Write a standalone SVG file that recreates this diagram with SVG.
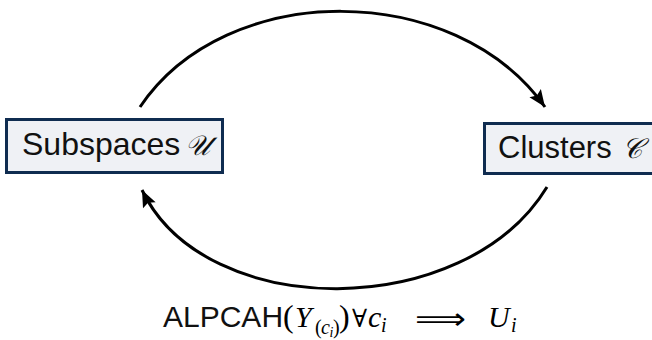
<svg xmlns="http://www.w3.org/2000/svg" width="652" height="340" viewBox="0 0 652 340">
<style>
.box{fill:#eff1f5;stroke:#0f2c50;stroke-width:3}
.lbl{font-family:"Liberation Sans",Arial,sans-serif;font-size:31px;fill:#111}
.cal{font-family:"DejaVu Serif","Liberation Serif",serif;font-style:italic;font-size:28px;fill:#111}
.edge{fill:none;stroke:#000;stroke-width:3}
.m{font-family:"Liberation Serif","DejaVu Serif",serif;font-style:italic;fill:#000}
.mu{font-family:"Liberation Serif","DejaVu Serif",serif;font-style:normal;fill:#000}
</style>
<defs>
<marker id="ah" markerUnits="userSpaceOnUse" markerWidth="24" markerHeight="20" viewBox="-18 -10 20 20" refX="0" refY="0" orient="auto">
<path d="M0,0 L-17,-7 L-14,0 L-17,7 Z" fill="#000"/>
</marker>
</defs>
<g id="connectors">
<path class="edge" d="M140,107 C226,-21 455,-20 545,107" marker-end="url(#ah)"/>
<path class="edge" d="M547,187 C465,322 205,322 142,190" marker-end="url(#ah)"/>
</g>
<g id="subspaces">
<rect class="box" x="6.5" y="119.5" width="216" height="53"/>
<text class="lbl" x="22" y="155" style="font-size:32px">Subspaces</text>
<text class="cal" x="185" y="155">𝒰</text>
</g>
<g id="clusters">
<rect class="box" x="484.5" y="123.5" width="175" height="50"/>
<text class="lbl" x="498" y="158">Clusters</text>
<text class="cal" x="622" y="158">𝒞</text>
</g>
<g id="caption">
<text class="lbl" x="163" y="327" style="font-size:30px">ALPCAH</text>
<text class="m" y="327" font-size="30"><tspan class="mu" x="283" font-size="32">(</tspan><tspan x="295">Y</tspan><tspan class="mu" x="315" y="334" font-size="20">(</tspan><tspan x="321" y="334" font-size="20">c</tspan><tspan x="329.5" y="337" font-size="14">i</tspan><tspan class="mu" x="333" y="334" font-size="20">)</tspan><tspan class="mu" x="339" y="327" font-size="32">)</tspan><tspan class="mu" x="352" y="327" font-size="25">∀</tspan><tspan x="368" y="327">c</tspan><tspan x="381" y="332" font-size="20">i</tspan></text>
<text font-family="DejaVu Sans,sans-serif" x="415" y="329" font-size="30" textLength="51" lengthAdjust="spacingAndGlyphs">⟹</text>
<text class="m" y="327" font-size="30"><tspan x="488">U</tspan><tspan x="511" y="332" font-size="20">i</tspan></text>
</g>
</svg>
